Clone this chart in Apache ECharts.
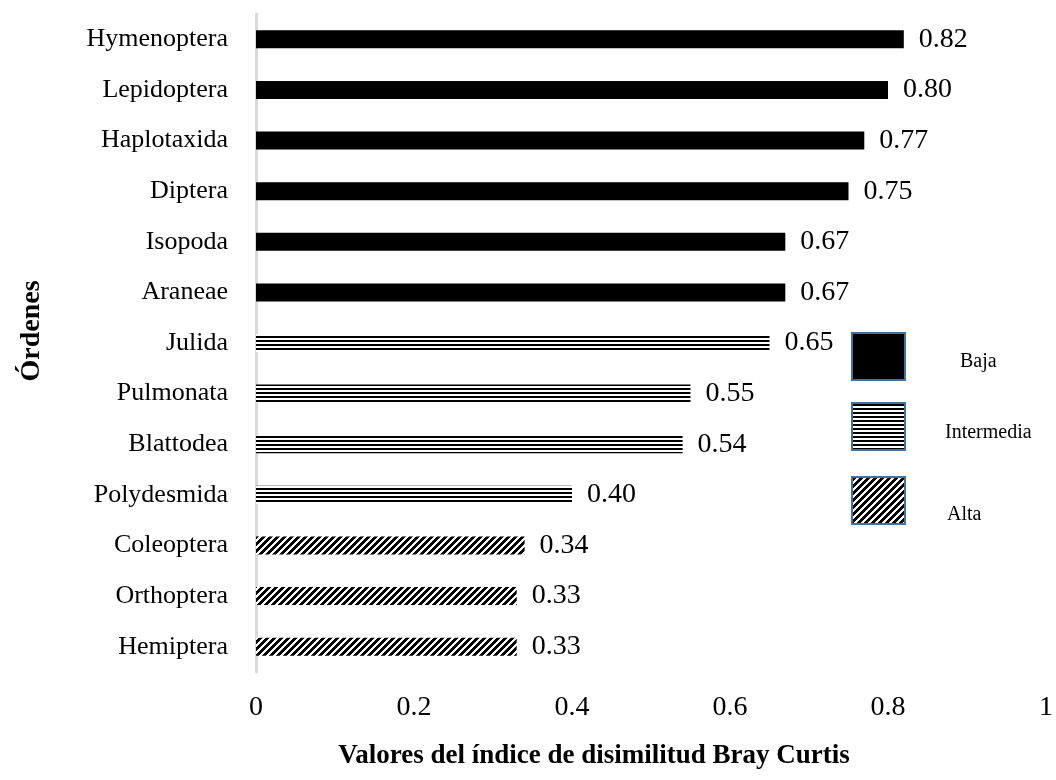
<!DOCTYPE html>
<html>
<head>
<meta charset="utf-8">
<title>Bray Curtis</title>
<script src="https://cdn.jsdelivr.net/npm/echarts@6/dist/echarts.min.js"></script>
<style>
  html, body { margin: 0; padding: 0; background: #fff; }
  #main { width: 1056px; height: 780px; }
</style>
</head>
<body>
<div id="main"></div>
<script>
// datos
var categorias = ['Hymenoptera', 'Lepidoptera', 'Haplotaxida', 'Diptera', 'Isopoda', 'Araneae', 'Julida',
  'Pulmonata', 'Blattodea', 'Polydesmida', 'Coleoptera', 'Orthoptera', 'Hemiptera']
var valores = [0.82, 0.80, 0.77, 0.75, 0.67, 0.67, 0.65, 0.55, 0.54, 0.40, 0.34, 0.33, 0.33]
var grupos = ['Baja', 'Baja', 'Baja', 'Baja', 'Baja', 'Baja', 'Intermedia',
  'Intermedia', 'Intermedia', 'Intermedia', 'Alta', 'Alta', 'Alta']
var nombresGrupo = ['Baja', 'Intermedia', 'Alta']
var ticksX = [0, 0.2, 0.4, 0.6, 0.8, 1]

var fuente = '"Liberation Serif", "Times New Roman", serif'

// rayas horizontales
function patronHorizontal() {
  var c = document.createElement('canvas')
  c.width = 8
  c.height = 4
  var ctx = c.getContext('2d')
  ctx.fillStyle = '#fff'
  ctx.fillRect(0, 0, 8, 4)
  ctx.fillStyle = '#000'
  ctx.fillRect(0, 0, 8, 2)
  return c
}

// rayas diagonales "/"
function patronDiagonal() {
  var p = 7
  var c = document.createElement('canvas')
  c.width = p
  c.height = p
  var ctx = c.getContext('2d')
  var img = ctx.createImageData(p, p)
  for (var y = 0; y < p; y++) {
    for (var x = 0; x < p; x++) {
      var negro = (x + y) % p < 4
      var i = (y * p + x) * 4
      var v = negro ? 0 : 255
      img.data[i] = v
      img.data[i + 1] = v
      img.data[i + 2] = v
      img.data[i + 3] = 255
    }
  }
  ctx.putImageData(img, 0, 0)
  return c
}

var rellenos = {
  'Baja': '#000',
  'Intermedia': { image: patronHorizontal(), repeat: 'repeat' },
  'Alta': { image: patronDiagonal(), repeat: 'repeat' }
}

var datos = valores.map(function (v, i) {
  return {
    value: v,
    itemStyle: { color: rellenos[grupos[i]] }
  }
})

// leyenda hecha a mano (cajas con borde azul)
var cajasY = [333, 403, 477]
var textosPos = [[960, 362], [945, 433], [947, 515]]
var leyenda = []
nombresGrupo.forEach(function (g, i) {
  leyenda.push({
    type: 'rect',
    shape: { x: 852, y: cajasY[i], width: 53, height: 47 },
    style: { fill: rellenos[g], stroke: '#41719c', lineWidth: 2 }
  })
  leyenda.push({
    type: 'text',
    x: textosPos[i][0],
    y: textosPos[i][1],
    style: {
      text: g,
      font: '20px ' + fuente,
      fill: '#000',
      textVerticalAlign: 'middle'
    }
  })
})

leyenda.push({
  type: 'text',
  x: 32,
  y: 331,
  rotation: Math.PI / 2,
  style: {
    text: 'Órdenes',
    font: 'bold 28px ' + fuente,
    fill: '#000',
    textAlign: 'center',
    textVerticalAlign: 'middle'
  }
})
leyenda.push({
  type: 'text',
  x: 594,
  y: 756,
  style: {
    text: 'Valores del índice de disimilitud Bray Curtis',
    font: 'bold 27px ' + fuente,
    fill: '#000',
    textAlign: 'center',
    textVerticalAlign: 'middle'
  }
})

var chart = echarts.init(document.getElementById('main'), null, { renderer: 'canvas' })

var option = {
  backgroundColor: '#fff',
  animation: false,
  grid: { left: 256, right: 5, top: 14, bottom: 108, containLabel: false },
  xAxis: {
    type: 'value',
    min: ticksX[0],
    max: ticksX[ticksX.length - 1],
    interval: ticksX[1] - ticksX[0],
    axisLine: { show: false },
    axisTick: { show: false },
    splitLine: { show: false },
    axisLabel: {
      margin: 22,
      color: '#000',
      fontSize: 28,
      fontFamily: fuente,
      formatter: function (v) { return String(+v.toFixed(1)) }
    }
  },
  yAxis: {
    type: 'category',
    inverse: true,
    data: categorias,
    axisLine: { show: true, lineStyle: { color: '#d9d9d9', width: 3 } },
    axisTick: { show: false },
    axisLabel: {
      margin: 28,
      color: '#000',
      fontSize: 26,
      fontFamily: fuente
    }
  },
  series: [{
    type: 'bar',
    data: datos,
    barWidth: 18,
    label: {
      show: true,
      position: 'right',
      distance: 15,
      color: '#000',
      fontSize: 28,
      fontFamily: fuente,
      formatter: function (p) { return p.value.toFixed(2) }
    }
  }],
  graphic: leyenda
}

chart.setOption(option)
</script>
</body>
</html>
